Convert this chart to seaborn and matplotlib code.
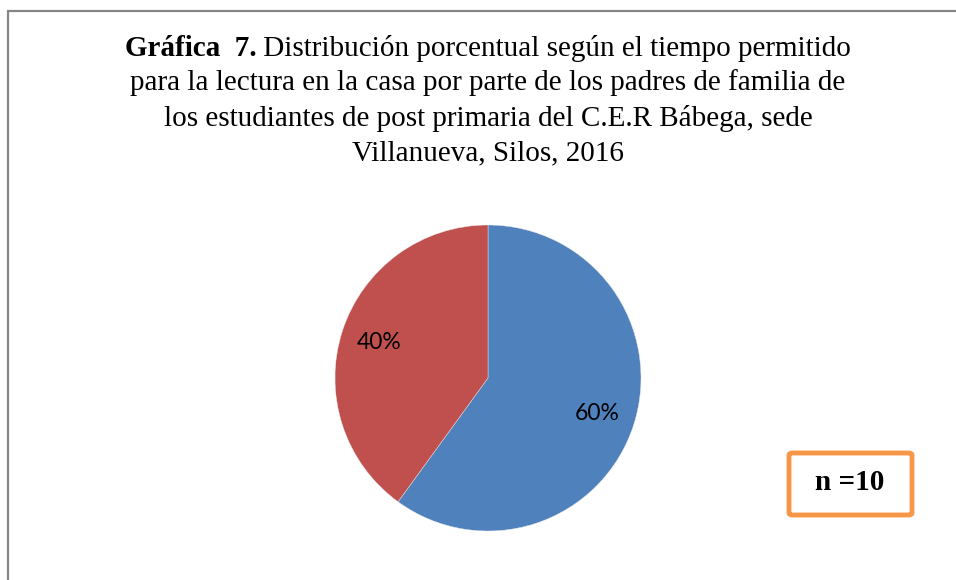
import matplotlib
matplotlib.use('Agg')
import matplotlib.pyplot as plt
import matplotlib.patches as mpatches
import seaborn as sns

# datos de la gráfica
categorias = ['Tiempo A', 'Tiempo B']
porcentajes = [60, 40]
colores = ['#4F81BD', '#C0504D']
titulo_negrita = 'Gráfica  7.'
titulo_resto = [' Distribución porcentual según el tiempo permitido',
                'para la lectura en la casa por parte de los padres de familia de',
                'los estudiantes de post primaria del C.E.R Bábega, sede',
                'Villanueva, Silos, 2016']
texto_n = 'n =10'

sns.set_theme(style='white')
plt.rcParams['font.family'] = ['Liberation Serif', 'DejaVu Serif']
plt.rcParams['text.color'] = 'black'

W, H = 956, 580
fig = plt.figure(figsize=(W / 100, H / 100), dpi=100)
fig.patch.set_facecolor('white')

# marco gris del área del gráfico
marco = mpatches.Rectangle((8 / W, -0.1), 1.2, 1 - 11 / H + 0.1, transform=fig.transFigure,
                           fill=False, edgecolor='#868686', linewidth=1.6, clip_on=False)
fig.patches.append(marco)

# pastel
cx, cy, r = 488, 378, 153
ax = fig.add_axes([(cx - r) / W, (H - cy - r) / H, 2 * r / W, 2 * r / H])
ax.pie(porcentajes, colors=colores, startangle=90, counterclock=False,
       autopct='%1.0f%%', pctdistance=0.75,
       wedgeprops={'linewidth': 0.3, 'edgecolor': '#e8e8e8'},
       textprops={'fontsize': 16.5, 'color': 'black', 'family': ['Lato', 'DejaVu Sans']})
ax.set_xlim(-1, 1)
ax.set_ylim(-1, 1)
ax.set_aspect('auto')
ax.axis('off')

# título: primera línea con parte en negrita
tam = 21
fig.canvas.draw()
renderer = fig.canvas.get_renderer()
t1 = fig.text(0, 1 - 48 / H, titulo_negrita, fontsize=tam, fontweight='bold', va='center')
t2 = fig.text(0, 1 - 48 / H, titulo_resto[0], fontsize=tam, va='center')
w1 = t1.get_window_extent(renderer).width
w2 = t2.get_window_extent(renderer).width
x0 = 488 - (w1 + w2) / 2
t1.set_x(x0 / W)
t2.set_x((x0 + w1) / W)
for i, linea in enumerate(titulo_resto[1:]):
    fig.text(488 / W, 1 - (83 + 35 * i) / H, linea, fontsize=tam, ha='center', va='center')

# recuadro n =10
caja = mpatches.FancyBboxPatch((789 / W, 1 - 515 / H), 123 / W, 62 / H,
                               boxstyle='round,pad=0,rounding_size=0.004',
                               transform=fig.transFigure, fill=False,
                               edgecolor='#F79646', linewidth=3.5)
fig.patches.append(caja)
fig.text(850 / W, 1 - 483 / H, texto_n, fontsize=21, fontweight='bold',
         ha='center', va='center')

plt.savefig('out.png', dpi=100, facecolor='white')
plt.close()
